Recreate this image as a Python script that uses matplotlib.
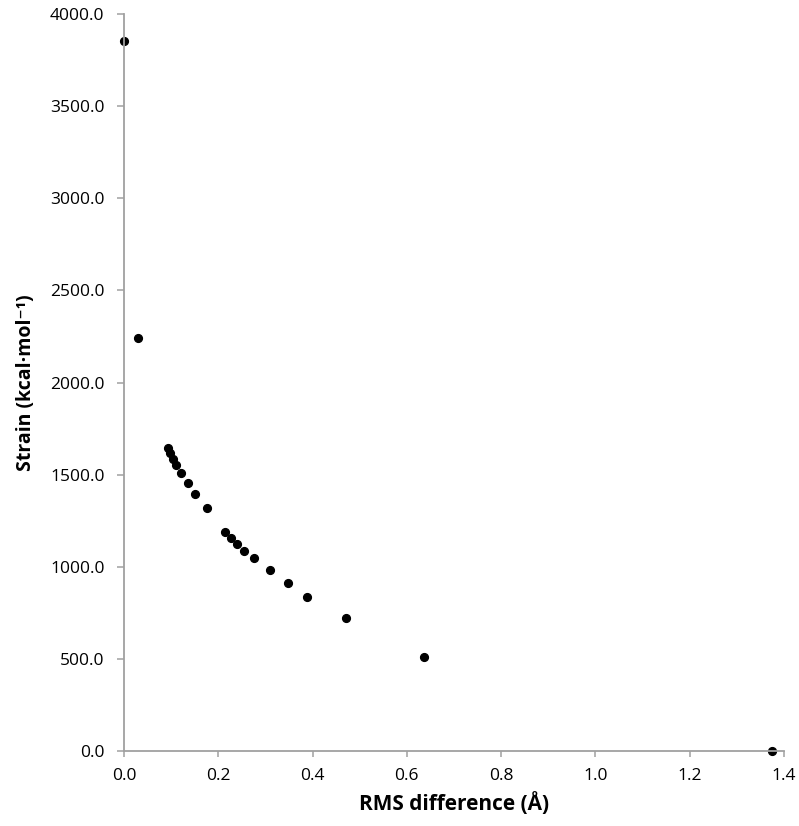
import matplotlib
matplotlib.use("Agg")
import matplotlib.pyplot as plt
from matplotlib.ticker import FormatStrFormatter, MultipleLocator

# RMS difference (A) vs strain (kcal/mol)
rms = [0.0, 0.030, 0.093, 0.098, 0.103, 0.111, 0.121, 0.135, 0.151, 0.175,
       0.214, 0.226, 0.239, 0.255, 0.275, 0.309, 0.347, 0.389, 0.471, 0.636, 1.375]
strain = [3855, 2240, 1644, 1619, 1587, 1552, 1507, 1456, 1397, 1320,
          1187, 1158, 1125, 1087, 1046, 984, 912, 836, 722, 512, 0]

x_label = "RMS difference (Å)"
y_label = "Strain (kcal·mol⁻¹)"

plt.rcParams['font.family'] = ['Open Sans', 'DejaVu Sans']

fig = plt.figure(figsize=(7.99, 8.26), dpi=100)
ax = fig.add_axes([124 / 799, 1 - 751 / 826, 660 / 799, 737 / 826])

ax.plot(rms, strain, 'o', color='black', markersize=5.6, clip_on=False)

ax.set_xlim(0, 1.4)
ax.set_ylim(0, 4000)
ax.xaxis.set_major_locator(MultipleLocator(0.2))
ax.yaxis.set_major_locator(MultipleLocator(500))
ax.xaxis.set_major_formatter(FormatStrFormatter('%.1f'))
ax.yaxis.set_major_formatter(FormatStrFormatter('%.1f'))

spine_col = '#a0a0a0'
for s in ['top', 'right']:
    ax.spines[s].set_visible(False)
for s in ['left', 'bottom']:
    ax.spines[s].set_color(spine_col)
    ax.spines[s].set_linewidth(1.3)
ax.tick_params(axis='y', direction='out', length=5, width=1.1, color=spine_col,
               labelsize=12.5, pad=9)
ax.tick_params(axis='x', direction='out', length=4, width=1.1, color=spine_col,
               labelsize=12.5, pad=8)

ax.set_xlabel(x_label, fontsize=15, fontweight='bold', labelpad=6)
ax.set_ylabel(y_label, fontsize=14, fontweight='bold', labelpad=10)

fig.savefig("out.png", dpi=100)
